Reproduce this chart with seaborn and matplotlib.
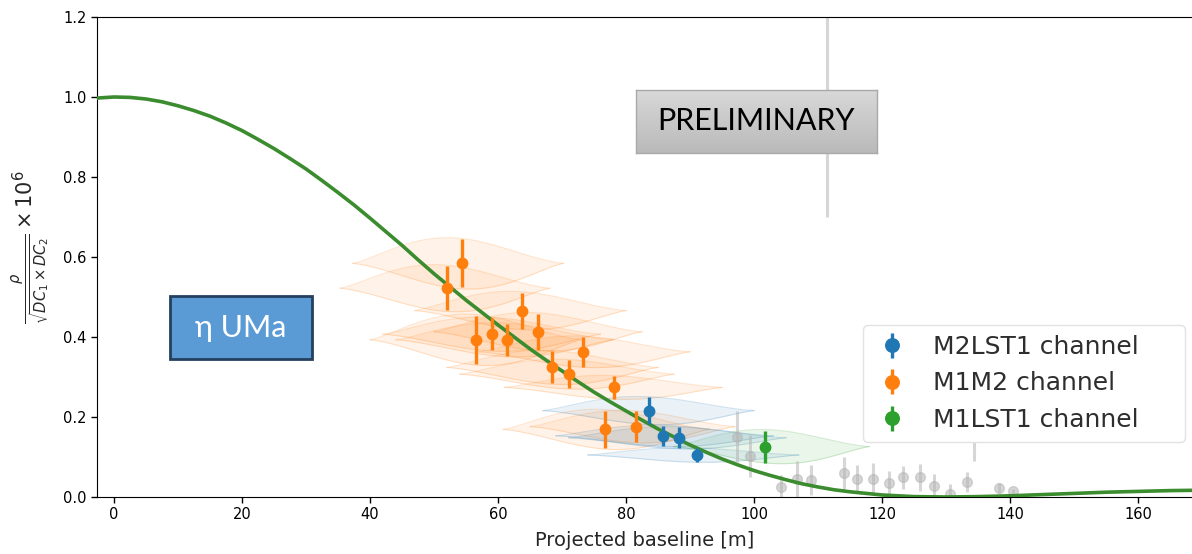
import numpy as np
import pandas as pd
import matplotlib
matplotlib.use("Agg")
import matplotlib.pyplot as plt
import seaborn as sns
from matplotlib.colors import LinearSegmentedColormap
from matplotlib.patches import Rectangle

# ------------------------------------------------------------------
# data
# ------------------------------------------------------------------
# model curve (projected baseline [m] -> normalised correlation x 1e6)
curve_b = [-5, 0, 2.5, 5, 7.5, 10, 12.5, 15, 17.5, 20, 22.5, 25, 27.5, 30,
           32.5, 35, 37.5, 40, 42.5, 45, 47.5, 50, 52.5, 55, 57.5, 60, 62.5,
           65, 67.5, 70, 72.5, 75, 77.5, 80, 82.5, 85, 87.5, 90, 92.5, 95,
           97.5, 100, 102.5, 105, 107.5, 110, 112.5, 115, 120, 125, 130, 135,
           140, 145, 150, 155, 160, 165, 170, 175]
curve_v = [0.995, 1.0, 0.999, 0.995, 0.988, 0.978, 0.966, 0.952, 0.935, 0.916,
           0.894, 0.871, 0.846, 0.820, 0.791, 0.761, 0.730, 0.697, 0.663,
           0.629, 0.593, 0.558, 0.525, 0.492, 0.461, 0.430, 0.400, 0.370,
           0.342, 0.315, 0.288, 0.262, 0.238, 0.215, 0.192, 0.170, 0.150,
           0.130, 0.112, 0.095, 0.080, 0.066, 0.054, 0.043, 0.033, 0.025,
           0.018, 0.013, 0.005, 0.001, 0.0, 0.001, 0.003, 0.006, 0.009, 0.012,
           0.014, 0.016, 0.017, 0.0175]

# M1M2 channel
m1m2_b = [52.0, 54.3, 56.5, 59.1, 61.4, 63.7, 66.2, 68.4, 71.0, 73.3, 78.1, 76.7, 81.6]
m1m2_v = [0.522, 0.584, 0.393, 0.407, 0.393, 0.466, 0.413, 0.324, 0.307, 0.363, 0.274, 0.169, 0.176]
m1m2_e = [0.055, 0.060, 0.060, 0.040, 0.040, 0.045, 0.045, 0.040, 0.035, 0.037, 0.028, 0.047, 0.038]
m1m2_lo = [35.3, 37.3, 40.0, 42.0, 44.0, 47.0, 50.0, 52.0, 54.0, 57.0, 61.0, 60.8, 65.0]
m1m2_hi = [68.1, 70.2, 73.0, 76.0, 78.0, 80.0, 82.5, 85.0, 87.5, 90.0, 95.0, 93.0, 97.0]

# M2LST1 channel
m2lst1_b = [83.6, 85.8, 88.3, 91.0]
m2lst1_v = [0.216, 0.153, 0.148, 0.105]
m2lst1_e = [0.033, 0.025, 0.026, 0.017]
m2lst1_lo = [67.0, 69.0, 71.0, 74.0]
m2lst1_hi = [100.0, 103.0, 105.0, 107.0]

# M1LST1 channel
m1lst1_b = [101.7]
m1lst1_v = [0.126]
m1lst1_e = [0.040]
m1lst1_lo = [87.4]
m1lst1_hi = [118.0]

# discarded points (grey)
grey_b = [97.3, 99.3, 104.2, 106.7, 108.9, 111.4, 114.1, 116.1, 118.5, 121.0,
          123.3, 125.9, 128.1, 130.6, 133.2, 134.3, 138.2, 140.5]
grey_v = [0.151, 0.103, 0.024, 0.046, 0.043, 0.95, 0.061, 0.046, 0.046, 0.034,
          0.049, 0.049, 0.028, 0.008, 0.038, 0.20, 0.022, 0.016]
grey_e = [0.063, 0.052, 0.030, 0.045, 0.037, 0.25, 0.040, 0.035, 0.040, 0.030,
          0.028, 0.033, 0.030, 0.025, 0.025, 0.11, 0.012, 0.005]

blue, orange, green = sns.color_palette("tab10")[:3]

# ------------------------------------------------------------------
# figure
# ------------------------------------------------------------------
sns.set_style("ticks")
plt.rcParams["font.family"] = ["DejaVu Sans"]

W, H = 1192, 554
fig = plt.figure(figsize=(W / 100, H / 100), dpi=100)
ax = fig.add_axes([97 / W, (H - 497) / H, 1095 / W, 480 / H])


def band(ax, b, v, e, lo, hi, color):
    # shaded lens showing the baseline spread of each measurement
    t = np.linspace(-1, 1, 80)
    env = np.cos(np.pi * t / 2) ** 1.3
    for bi, vi, ei, l, h in zip(b, v, e, lo, hi):
        xs = l + (h - l) * (t + 1) / 2
        up = vi + 1.05 * ei * env * (1 - 0.35 * t)
        dn = vi - 1.05 * ei * env * (1 + 0.35 * t)
        ax.fill_between(xs, dn, up, color=color, alpha=0.09, lw=0, zorder=1)
        ax.plot(xs, up, color=color, alpha=0.2, lw=0.8, zorder=1)
        ax.plot(xs, dn, color=color, alpha=0.2, lw=0.8, zorder=1)


band(ax, m1m2_b, m1m2_v, m1m2_e, m1m2_lo, m1m2_hi, orange)
band(ax, m2lst1_b, m2lst1_v, m2lst1_e, m2lst1_lo, m2lst1_hi, blue)
band(ax, m1lst1_b, m1lst1_v, m1lst1_e, m1lst1_lo, m1lst1_hi, green)

# grey points
ax.errorbar(grey_b, grey_v, yerr=grey_e, fmt="o", color="#b5b5b5", alpha=0.55,
            ms=7, elinewidth=2.2, capsize=0, zorder=2)

df_curve = pd.DataFrame({"b": curve_b, "v": curve_v})
sns.lineplot(data=df_curve, x="b", y="v", ax=ax, color="#3b8c2e", lw=2.6, zorder=3)

h_blue = ax.errorbar(m2lst1_b, m2lst1_v, yerr=m2lst1_e, fmt="o", color=blue,
                     ms=7.5, elinewidth=2.4, capsize=0, zorder=4)
h_orange = ax.errorbar(m1m2_b, m1m2_v, yerr=m1m2_e, fmt="o", color=orange,
                       ms=7.5, elinewidth=2.4, capsize=0, zorder=4)
h_green = ax.errorbar(m1lst1_b, m1lst1_v, yerr=m1lst1_e, fmt="o", color=green,
                      ms=7.5, elinewidth=2.4, capsize=0, zorder=4)

ax.set_xlim(-2.66, 168.4)
ax.set_ylim(0, 1.2)
ax.set_xticks(range(0, 161, 20))
ax.set_yticks([0.0, 0.2, 0.4, 0.6, 0.8, 1.0, 1.2])
ax.set_yticklabels(["0.0", "0.2", "0.4", "0.6", "0.8", "1.0", "1.2"])
ax.tick_params(axis="both", labelsize=10.5, length=4, width=1, colors="black")
for s in ["left", "bottom", "top"]:
    ax.spines[s].set_visible(True)
    ax.spines[s].set_color("black")
ax.spines["right"].set_visible(False)

ax.set_xlabel("Projected baseline [m]", fontsize=14)
ax.xaxis.set_label_coords(0.5005, -0.07)
ax.set_ylabel(r"$\frac{\rho}{\sqrt{DC_1 \times DC_2}} \times 10^6$", fontsize=15)
ax.yaxis.set_label_coords(-0.041, 0.52)

leg = ax.legend([h_blue, h_orange, h_green],
                ["M2LST1 channel", "M1M2 channel", "M1LST1 channel"],
                loc="upper left", mode="expand",
                bbox_to_anchor=(863 / W, 1 - 437 / H, 322 / W, 112 / H),
                bbox_transform=fig.transFigure, borderaxespad=0,
                fontsize=18, markerscale=1.3, frameon=True, fancybox=True,
                framealpha=1, edgecolor="#e2e2e2", labelcolor="#2e2e2e",
                handlelength=1.5, handletextpad=0.9, labelspacing=0.5)
leg.set_zorder(10)

# PRELIMINARY box (gradient grey)
pax = fig.add_axes([636 / W, 1 - 153 / H, 241 / W, 63 / H], zorder=20)
pax.imshow(np.linspace(0, 1, 60)[:, None], aspect="auto",
           cmap=LinearSegmentedColormap.from_list("g", ["#d8d8d8", "#bababa"]),
           extent=(0, 1, 0, 1), origin="upper")
pax.set_xticks([])
pax.set_yticks([])
for s in pax.spines.values():
    s.set_color("#a9a9a9")
    s.set_linewidth(1)
pax.text(0.5, 0.5, "PRELIMINARY", ha="center", va="center", fontsize=22,
         family=["Lato", "DejaVu Sans"], color="black")

# star name box
fig.patches.append(Rectangle((170 / W, 1 - 359 / H), 142 / W, 63 / H,
                             transform=fig.transFigure, facecolor="#5b9bd5",
                             edgecolor="#24405e", lw=2, zorder=20))
fig.text(241 / W, 1 - 328 / H, "η UMa", ha="center", va="center", fontsize=22,
         color="white", family=["Lato", "DejaVu Sans"], zorder=21)

fig.savefig("out.png", dpi=100)
